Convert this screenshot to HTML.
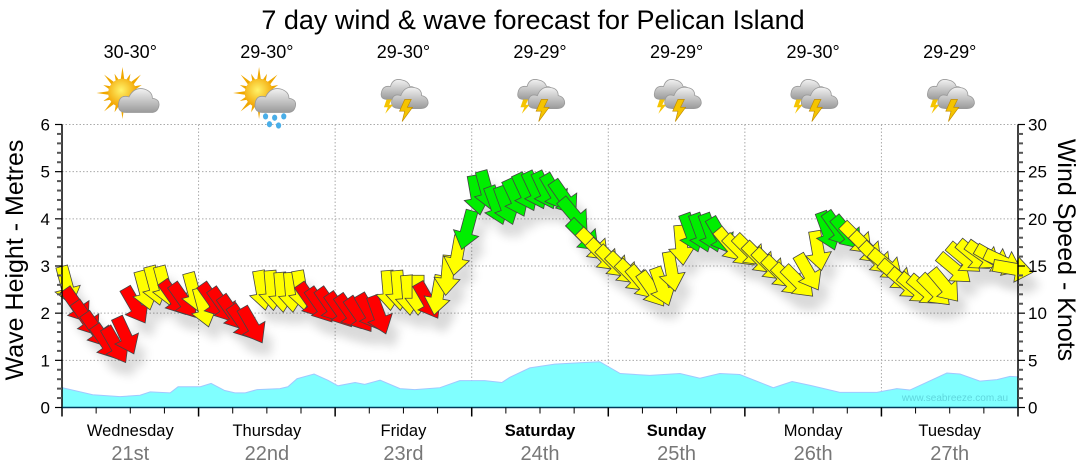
<!DOCTYPE html>
<html><head><meta charset="utf-8"><style>
html,body{margin:0;padding:0;background:#fff;}
svg{display:block;font-family:"Liberation Sans",Arial,sans-serif;}
</style></head><body>
<svg id="chart" width="1080" height="475" viewBox="0 0 1080 475" xmlns="http://www.w3.org/2000/svg">
<defs>
<radialGradient id="sunG" cx="0.45" cy="0.4" r="0.6"><stop offset="0" stop-color="#fff36a"/><stop offset="1" stop-color="#f2a100"/></radialGradient>
<linearGradient id="cloudG" x1="0" y1="0" x2="0" y2="1"><stop offset="0" stop-color="#f2f2f2"/><stop offset="1" stop-color="#9a9a9a"/></linearGradient>
<filter id="sh" x="-50%" y="-50%" width="200%" height="200%"><feGaussianBlur stdDeviation="5"/></filter>
</defs>
<text x="533" y="29" font-size="27" text-anchor="middle" fill="#000">7 day wind &amp; wave forecast for Pelican Island</text>
<g id="grid"></g>
<g id="wave"></g>
<g id="shadows" opacity="0.15"></g>
<g id="arrows"></g>
<g id="axes"></g>
<g id="icons"></g>
<text x="955" y="401" font-size="10" text-anchor="middle" fill="#5fd6dd">www.seabreeze.com.au</text>
<text transform="translate(23,260) rotate(-90)" font-size="25" text-anchor="middle">Wave Height - Metres</text>
<text transform="translate(1058,250) rotate(90)" font-size="25" text-anchor="middle">Wind Speed - Knots</text>
</svg>
<script>
const NS="http://www.w3.org/2000/svg";
// ---- data ----
const dayNames=["Wednesday","Thursday","Friday","Saturday","Sunday","Monday","Tuesday"];
const dayDates=["21st","22nd","23rd","24th","25th","26th","27th"];
const dayBold=[false,false,false,true,true,false,false];
const dayTemps=["30-30°","29-30°","29-30°","29-29°","29-29°","29-30°","29-29°"];
const dayIcons=["sun-cloud","sun-rain","storm","storm","storm","storm","storm"];
const waveTicks=[0,1,2,3,4,5,6];
const windTicks=[0,5,10,15,20,25,30];
const waveHours=[0,5.4,10.2,13.7,15.5,19.0,20.4,24.3,26.2,28.6,30.4,32.2,34.3,38.3,39.7,41.3,44.3,46.7,48.5,51.5,53.2,55.9,59.4,62.0,66.4,69.9,74.3,77.3,78.7,82.2,86.6,91.0,94.5,98.1,103.3,108.6,112.1,115.6,119.1,125,128.3,131.5,136.7,143.2,146.7,149,155.5,157.8,161.3,164.3,166.6,168];
const waveHeights=[0.42,0.27,0.23,0.26,0.33,0.31,0.44,0.44,0.51,0.36,0.31,0.31,0.38,0.40,0.44,0.61,0.71,0.58,0.46,0.53,0.49,0.58,0.40,0.38,0.42,0.57,0.57,0.53,0.64,0.84,0.92,0.95,0.97,0.72,0.68,0.72,0.62,0.72,0.70,0.42,0.55,0.47,0.32,0.32,0.40,0.37,0.73,0.71,0.56,0.59,0.66,0.65];
const windKnots=[
12.9,10.8,9.4,8.2,6.9,6.6,7.6,10.8,12.4,12.9,12.9,11.6,11.3,12.2,
10.6,11.3,10.8,10.0,9.0,8.7,12.4,12.4,12.2,12.2,12.4,11.3,10.8,10.8,
10.3,10.1,9.8,10.1,9.8,12.4,12.4,11.9,11.9,11.3,11.9,14.0,16.1,18.8,
22.5,23.0,21.4,21.4,22.2,22.8,23.0,23.0,22.8,22.2,20.4,18.2,17.2,16.1,
15.4,14.7,13.9,13.2,12.5,12.8,14.4,17.2,18.5,18.5,18.5,18.2,17.2,16.6,
16.6,15.8,15.1,14.3,13.5,13.3,14.3,16.6,18.7,18.9,18.5,17.9,16.9,15.8,
15.1,14.0,13.1,12.6,12.4,12.4,12.9,14.7,15.8,16.1,16.1,15.8,15.4,14.7];
const windDir=[
345,325,325,325,325,330,335,330,345,345,345,325,325,345,
345,325,325,325,325,330,350,355,355,355,350,325,325,325,
325,325,325,330,340,355,355,355,0,330,10,5,10,15,
350,345,340,340,335,335,335,335,330,325,320,315,315,315,
315,315,315,320,325,340,350,355,340,340,340,330,320,315,
315,315,315,315,315,315,330,350,340,325,320,315,315,315,
310,310,310,310,310,315,320,310,310,310,305,300,295,280];
const windClass=[
"Y","R","R","R","R","R","R","R","Y","Y","Y","R","R","Y",
"Y","R","R","R","R","R","Y","Y","Y","Y","Y","R","R","R",
"R","R","R","R","R","Y","Y","Y","Y","R","Y","Y","Y","G",
"G","G","G","G","G","G","G","G","G","G","G","G","Y","Y",
"Y","Y","Y","Y","Y","Y","Y","Y","G","G","G","G","Y","Y",
"Y","Y","Y","Y","Y","Y","Y","Y","G","G","G","Y","Y","Y",
"Y","Y","Y","Y","Y","Y","Y","Y","Y","Y","Y","Y","Y","Y"];
const arrowsPerDay=14;
// ---- scales ----
const X0=62,X1=1018,Y0=407.5,Y1=124.5;
const xH=h=>X0+(X1-X0)*h/168;
const yM=m=>Y0-(Y0-Y1)*m/6;
const yK=k=>Y0-(Y0-Y1)*k/30;
const colors={R:"#ff0000",Y:"#ffff00",G:"#00ee00"};
function mk(tag,attrs,parent){const e=document.createElementNS(NS,tag);for(const k in attrs)e.setAttribute(k,attrs[k]);parent.appendChild(e);return e;}
const grid=document.getElementById('grid'),axes=document.getElementById('axes');
for(let m=1;m<=6;m++){const l=mk('line',{x1:X0,x2:X1,y1:yM(m),y2:yM(m),stroke:'#aaa','stroke-dasharray':'1.5,2','stroke-width':1},grid);

}
for(let d=1;d<7;d++){const l=mk('line',{x1:xH(d*24),x2:xH(d*24),y1:Y1,y2:Y0,stroke:'#aaa','stroke-dasharray':'1.5,2','stroke-width':1},grid);

}
let pts=[[xH(waveHours[0]),Y0]];
waveHours.forEach((h,i)=>pts.push([xH(h),yM(waveHeights[i])]));
pts.push([xH(waveHours[waveHours.length-1]),Y0]);
const wa=mk('polygon',{points:pts.map(p=>p.join(',')).join(' '),fill:'#80ffff',stroke:'#a0c8ff','stroke-width':1},document.getElementById('wave'));


const arrowPath="M-6,-20 L-6,3 L-13,3 L0,20 L13,3 L6,3 L6,-20 Z";
const ag=document.getElementById('arrows'),sg=document.getElementById('shadows');
windKnots.forEach((k,i)=>{
  const d=Math.floor(i/arrowsPerDay),j=i%arrowsPerDay;
  const h=d*24+(j+0.5)*24/arrowsPerDay;
  const x=xH(h),y=yK(k);
  const s=mk('path',{d:arrowPath,transform:`translate(${x+8},${y+14}) rotate(${windDir[i]})`,fill:'#000',filter:'url(#sh)'},sg);
  
  
  const a=mk('path',{d:arrowPath,transform:`translate(${x},${y}) rotate(${windDir[i]})`,fill:colors[windClass[i]],stroke:'#444','stroke-width':0.8},ag);
  
  
});
mk('line',{x1:X0,x2:X0,y1:Y1,y2:Y0,stroke:'#000','stroke-width':1.5},axes);
mk('line',{x1:X1,x2:X1,y1:Y1,y2:Y0,stroke:'#000','stroke-width':1.5},axes);
mk('line',{x1:X0,x2:X1,y1:Y0,y2:Y0,stroke:'#003a5a','stroke-width':1.5},axes);
for(let m=0;m<=30;m++){const v=m*0.2,y=yM(v),maj=m%5===0;
 mk('line',{x1:X0-(maj?7:5),x2:X0,y1:y,y2:y,stroke:maj?'#000':'#555','stroke-width':maj?1.2:2},axes);}
waveTicks.forEach(v=>{const t=mk('text',{x:50,y:yM(v)+6,'font-size':17,'text-anchor':'end',fill:'#000'},axes);t.textContent=v;
 
 });
for(let k=0;k<=30;k++){const y=yK(k),maj=k%5===0;
 mk('line',{x1:X1,x2:X1+(maj?7:5),y1:y,y2:y,stroke:maj?'#000':'#555','stroke-width':maj?1.2:2},axes);}
windTicks.forEach(v=>{const t=mk('text',{x:1028,y:yK(v)+6,'font-size':17,'text-anchor':'start',fill:'#000'},axes);t.textContent=v;
 
 });
for(let h=0;h<=168;h+=6){const maj=h%24===0;mk('line',{x1:xH(h),x2:xH(h),y1:Y0,y2:Y0+(maj?9:6),stroke:'#000','stroke-width':maj?1.5:1},axes);}
const ic=document.getElementById('icons');
dayNames.forEach((n,d)=>{
 const cx=xH(d*24+12);
 const t=mk('text',{x:cx,y:436,'font-size':16.5,'text-anchor':'middle','font-weight':dayBold[d]?'bold':'normal',fill:'#000'},axes);t.textContent=n;
 
 
 const t2=mk('text',{x:cx,y:460,'font-size':20,'text-anchor':'middle',fill:'#777'},axes);t2.textContent=dayDates[d];
 
 
 const tt=mk('text',{x:cx,y:58,'font-size':18,'text-anchor':'middle',fill:'#000'},ic);tt.textContent=dayTemps[d];
 
 
 const g=mk('g',{transform:`translate(${cx},93) scale(1.3)`},ic);
 
 
 const type=dayIcons[d];
 if(type!=='storm'){
   for(let r=0;r<16;r++){const a=r*Math.PI/8,L=r%2?16:20;
     mk('polygon',{points:`${-6+Math.cos(a-0.18)*9},${Math.sin(a-0.18)*9} ${-6+Math.cos(a)*L},${Math.sin(a)*L} ${-6+Math.cos(a+0.18)*9},${Math.sin(a+0.18)*9}`,fill:'#f0a800'},g);}
   mk('circle',{cx:-6,cy:0,r:11,fill:'url(#sunG)'},g);
   mk('path',{d:"M-3,15 Q-10,15 -9,8 Q-8,1 -1,3 Q3,-5 11,-3 Q17,-1 17,4 Q23,5 22,10 Q21,15 16,15 Z",fill:'url(#cloudG)',stroke:'#999','stroke-width':0.6},g);
   if(type==='sun-rain'){[[-1,18],[6,19],[13,18],[2,24],[9,25]].forEach(p=>mk('ellipse',{cx:p[0],cy:p[1],rx:2,ry:2.4,fill:'#4aaee8'},g));}
 } else {
   mk('path',{d:"M-12,5 Q-18,5 -17,0 Q-16,-6 -10,-5 Q-8,-12 -1,-10 Q4,-9 5,-5 Q10,-5 10,0 Q10,5 5,5 Z",fill:'url(#cloudG)',stroke:'#999','stroke-width':0.6},g);
   mk('path',{d:"M-3,12 Q-10,12 -9,6 Q-8,0 -2,2 Q1,-6 9,-4 Q14,-3 14,2 Q19,3 19,8 Q18,12 13,12 Z",fill:'url(#cloudG)',stroke:'#999','stroke-width':0.6},g);
   mk('polygon',{points:"1,5 6,5 3,11 7,11 -1,22 1,14 -3,14",fill:'#f5c400',stroke:'#c08a00','stroke-width':0.5},g);
   mk('polygon',{points:"-13,5 -9,5 -11,9 -8,9 -14,16 -12,11 -15,11",fill:'#f5c400'},g);
 }
});
</script>
</body></html>
